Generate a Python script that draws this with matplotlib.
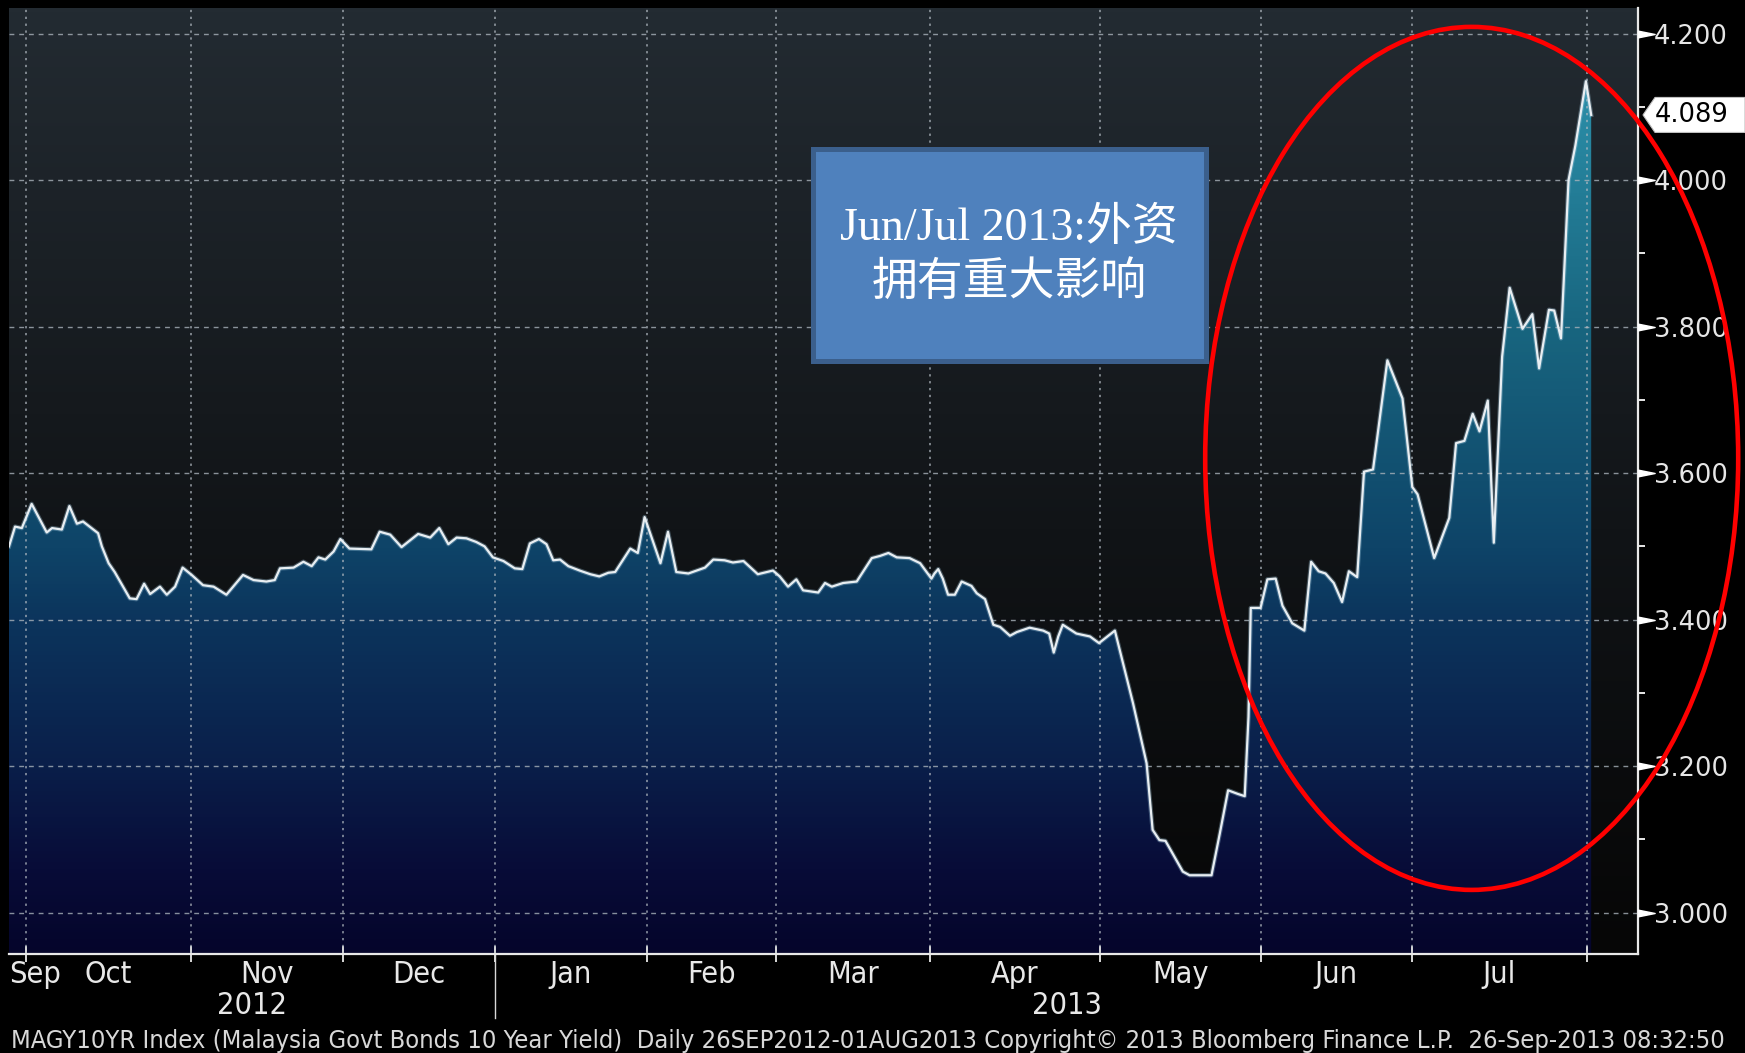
"""Malaysia 10Y govt bond yield, Bloomberg-style dark area chart."""
import matplotlib
matplotlib.use("Agg")
import matplotlib.pyplot as plt
import numpy as np
from matplotlib import font_manager
from matplotlib.colors import LinearSegmentedColormap
from matplotlib.patches import Ellipse, Polygon, Rectangle
from matplotlib.path import Path
from matplotlib.transforms import IdentityTransform, blended_transform_factory

# Data (x = trading sessions since 26-Sep-2012)
sessions = [
    0.0, 0.8, 1.7, 3.0, 5.0, 5.7, 7.0, 8.0, 9.0, 9.8, 11.8, 12.3, 13.2, 14.0,
    16.0, 16.9, 17.9, 18.7, 20.0, 20.9, 22.0, 23.0, 24.2, 25.7, 27.1, 28.8,
    31.0, 32.4, 34.1, 35.2, 35.9, 37.7, 39.0, 40.1, 41.0, 41.9, 43.0, 43.9,
    45.1, 48.0, 49.1, 50.5, 52.0, 54.2, 55.8, 57.0, 58.2, 59.3, 60.6, 61.9,
    63.0, 64.1, 65.5, 67.0, 68.0, 69.0, 70.2, 71.2, 72.1, 73.0, 74.1, 75.6,
    77.0, 78.2, 79.4, 80.3, 82.3, 83.3, 84.2, 86.3, 87.3, 88.4, 90.0, 92.2,
    93.3, 94.8, 95.9, 97.3, 99.2, 101.2, 102.1, 103.2, 104.3, 105.2, 107.2,
    108.1, 109.0, 110.5, 112.3, 114.3, 115.4, 116.5, 117.6, 119.3, 120.7,
    122.2, 122.6, 123.1, 123.7, 124.4, 125.3, 126.2, 127.5, 128.2, 129.3,
    130.4, 131.3, 132.6, 133.5, 135.2, 137.0, 137.8, 138.4, 139.0, 139.6,
    141.4, 143.2, 144.4, 146.5, 148.9, 150.7, 151.5, 152.4, 153.2, 155.5,
    156.4, 159.3, 160.4, 161.5, 162.8, 163.7, 164.2, 164.5, 165.8, 166.7,
    167.8, 168.7, 170.0, 171.6, 172.5, 173.5, 174.4, 175.5, 176.6, 177.5,
    178.6, 179.5, 180.7, 182.6, 184.6, 185.9, 186.6, 188.8, 190.8, 191.7,
    192.8, 193.9, 194.8, 195.9, 196.7, 197.8, 198.8, 200.5, 201.8, 202.7,
    204.0, 204.7, 205.6, 206.6, 207.5, 208.9, 209.6,
]
yields = [
    3.500, 3.527, 3.525, 3.558, 3.519, 3.525, 3.523, 3.555, 3.531, 3.534,
    3.518, 3.500, 3.477, 3.465, 3.429, 3.428, 3.449, 3.435, 3.445, 3.434,
    3.445, 3.471, 3.461, 3.447, 3.445, 3.434, 3.461, 3.454, 3.452, 3.454,
    3.470, 3.471, 3.479, 3.473, 3.485, 3.482, 3.493, 3.510, 3.497, 3.496,
    3.520, 3.516, 3.499, 3.517, 3.512, 3.525, 3.503, 3.512, 3.511, 3.506,
    3.500, 3.485, 3.480, 3.470, 3.469, 3.504, 3.510, 3.503, 3.481, 3.482,
    3.473, 3.467, 3.462, 3.459, 3.464, 3.465, 3.497, 3.491, 3.540, 3.477,
    3.520, 3.465, 3.463, 3.471, 3.482, 3.481, 3.478, 3.480, 3.462, 3.467,
    3.459, 3.445, 3.455, 3.440, 3.437, 3.450, 3.445, 3.450, 3.452, 3.484,
    3.487, 3.491, 3.485, 3.484, 3.477, 3.456, 3.463, 3.469, 3.456, 3.434,
    3.434, 3.452, 3.446, 3.436, 3.428, 3.393, 3.390, 3.378, 3.383, 3.389,
    3.385, 3.381, 3.355, 3.377, 3.393, 3.381, 3.377, 3.368, 3.385, 3.286,
    3.204, 3.113, 3.099, 3.098, 3.056, 3.051, 3.051, 3.108, 3.167, 3.162,
    3.159, 3.267, 3.416, 3.416, 3.455, 3.456, 3.419, 3.395, 3.385, 3.479,
    3.466, 3.463, 3.450, 3.424, 3.466, 3.458, 3.602, 3.605, 3.754, 3.702,
    3.581, 3.571, 3.484, 3.539, 3.641, 3.644, 3.681, 3.657, 3.699, 3.505,
    3.759, 3.853, 3.797, 3.817, 3.743, 3.823, 3.822, 3.784, 4.000, 4.047,
    4.135, 4.089,
]

# month boundaries (session index) and labels
month_bounds = [2.2, 24.1, 44.2, 64.4, 84.5, 101.6, 122.0, 144.5, 165.8, 185.8, 209.0]
month_labels = ["Sep", "Oct", "Nov", "Dec", "Jan", "Feb", "Mar", "Apr", "May", "Jun", "Jul"]
year_labels = ["2012", "2013"]
y_major = [3.0, 3.2, 3.4, 3.6, 3.8, 4.0, 4.2]
y_minor = [3.1, 3.3, 3.5, 3.7, 3.9, 4.1]

footer_text = ("MAGY10YR Index (Malaysia Govt Bonds 10 Year Yield)  Daily 26SEP2012-01AUG2013 "
               "Copyright\u00a9 2013 Bloomberg Finance L.P.  26-Sep-2013 08:32:50")
note_lines = ["Jun/Jul 2013:外资", "拥有重大影响"]

XMIN, XMAX = 0.0, 215.8
YMIN, YMAX = 2.9435, 4.235
W, H = 1745, 1053

installed = {f.name for f in font_manager.fontManager.ttflist}
if "Liberation Sans Narrow" in installed:
    NARROW = dict(family="Liberation Sans Narrow")
else:
    NARROW = dict(family="DejaVu Sans", fontstretch="condensed")
CJK_WEIGHT = "light"

fig = plt.figure(figsize=(W / 100, H / 100), dpi=100, facecolor="black")
ax = fig.add_axes([9 / W, 1 - 954 / H, (1638 - 9) / W, (954 - 8) / H])
ax.set_xlim(XMIN, XMAX)
ax.set_ylim(YMIN, YMAX)
ax.set_facecolor("black")

# background gradient above the line
bg_cmap = LinearSegmentedColormap.from_list(
    "bg", [(0.0, "#060606"), (0.45, "#111417"), (1.0, "#232b32")])
grad = np.linspace(1, 0, 256).reshape(-1, 1)
ax.imshow(grad, extent=[XMIN, XMAX, YMIN, YMAX], aspect="auto", cmap=bg_cmap,
          vmin=0, vmax=1, zorder=0)

# area fill with a vertical gradient clipped to the series polygon
fill_cmap = LinearSegmentedColormap.from_list(
    "fill", [(0.0, "#05052b"), (0.09, "#080c38"), (0.2, "#0a1f4a"),
             (0.35, "#0c345c"), (0.43, "#0e4468"), (0.66, "#18657f"),
             (0.9, "#2a8ca6"), (1.0, "#38a0b8")])
fill_im = ax.imshow(grad, extent=[XMIN, XMAX, YMIN, YMAX], aspect="auto",
                    cmap=fill_cmap, vmin=0, vmax=1, zorder=1)
verts = [(sessions[0], YMIN)] + list(zip(sessions, yields)) + [(sessions[-1], YMIN)]
clip = Polygon(verts, closed=True, transform=ax.transData, facecolor="none", edgecolor="none")
ax.add_patch(clip)
fill_im.set_clip_path(clip)

# grid
for v in y_major:
    ax.axhline(v, color="#a9b2ba", lw=1.0, dashes=(3.5, 3.5), alpha=0.8, zorder=2)
for b in month_bounds:
    ax.axvline(b, color="#b0b8c0", lw=1.1, dashes=(1.5, 3.0), alpha=0.85, zorder=2)

# series line (soft glow under a bright core)
ax.plot(sessions, yields, color="#9fc6dc", lw=3.2, alpha=0.35, zorder=3,
        solid_joinstyle="round")
ax.plot(sessions, yields, color="#e8eef2", lw=1.6, zorder=3, solid_joinstyle="round")

# spines
for s in ("top", "left"):
    ax.spines[s].set_visible(False)
for s in ("bottom", "right"):
    ax.spines[s].set_color("#e8e8e8")
    ax.spines[s].set_linewidth(1.6)
    ax.spines[s].set_zorder(5)

# right axis
ax.yaxis.tick_right()
ax.set_yticks(y_major)
ax.set_yticklabels([f"{v:.3f}" for v in y_major])
ax.set_yticks(y_minor, minor=True)
ax.tick_params(axis="y", which="major", length=0, pad=11.5, labelsize=18.5,
               labelcolor="#e6e6e6")
ax.tick_params(axis="y", which="minor", length=5, width=1.4, color="#e8e8e8",
               direction="out")
wedge = Path([(0, -0.2), (1, 0), (0, 0.2), (0, -0.2)],
             [Path.MOVETO, Path.LINETO, Path.LINETO, Path.CLOSEPOLY])
ax.plot([XMAX] * len(y_major), y_major, linestyle="none", marker=wedge,
        markersize=24, color="white", clip_on=False, zorder=6)

# bottom axis
ax.set_xticks(month_bounds)
ax.set_xticklabels([])
ax.tick_params(axis="x", which="major", direction="inout", length=11, width=1.3,
               color="#e8e8e8")

xt = blended_transform_factory(ax.transData, ax.transAxes)
lab_y = -20.5 / 946
year_y = -51 / 946
label_kw = dict(transform=xt, va="center", color="#e8e8e8", fontsize=22, **NARROW)
ax.text(0.0, lab_y, month_labels[0], ha="left", **label_kw)
for i, lab in enumerate(month_labels[1:]):
    mid = (month_bounds[i] + month_bounds[i + 1]) / 2
    ax.text(mid, lab_y, lab, ha="center", **label_kw)
ax.text((XMIN + month_bounds[3]) / 2, year_y, year_labels[0], ha="center", **label_kw)
ax.text((month_bounds[3] + XMAX) / 2, year_y, year_labels[1], ha="center", **label_kw)
ax.plot([month_bounds[3]] * 2, [0, -64 / 946], transform=xt, color="#d8d8d8",
        lw=1.0, clip_on=False)

footer = fig.text(11 / W, 1 - 1040.6 / H, footer_text, ha="left", va="center",
                  color="#d8d8d8", fontsize=16, **NARROW)

# fit footer to the width it spans in the reference
fig.canvas.draw()
renderer = fig.canvas.get_renderer()
bb = footer.get_window_extent(renderer)
footer.set_fontsize(16 * (1720 / bb.width))

# last value tag
x_ax, y_last = ax.transData.transform((XMAX, yields[-1]))
tag = Polygon([(x_ax + 5, y_last), (x_ax + 17, y_last + 17.5), (W, y_last + 17.5),
               (W, y_last - 17.5), (x_ax + 17, y_last - 17.5)], closed=True,
              transform=IdentityTransform(), facecolor="white", edgecolor="#bfbfbf",
              lw=0.8, zorder=7)
fig.add_artist(tag)
fig.text((x_ax + 17) / W, y_last / H, f"{yields[-1]:.3f}", ha="left", va="center",
         color="black", fontsize=18.5, zorder=8)

# annotation box
box = Rectangle((812.5 / W, 1 - 360.5 / H), 393 / W, 211 / H, transform=fig.transFigure,
                facecolor="#4f81bd", edgecolor="#3b5f8c", lw=3.6, zorder=9)
fig.add_artist(box)
for txt, ypix in zip(note_lines, [229, 283]):
    fig.text(1009 / W, 1 - ypix / H, txt, ha="center", va="center", color="white",
             fontsize=33, family=["Liberation Serif", "Noto Sans CJK SC"],
             fontweight=CJK_WEIGHT, zorder=10)

# red ellipse
ring = Ellipse((1471.7 / W, 1 - 458.4 / H), 533 / W, 863 / H, transform=fig.transFigure,
               facecolor="none", edgecolor="#ff0000", lw=3.3, zorder=11)
fig.add_artist(ring)

fig.savefig("out.png", dpi=100, facecolor="black")
plt.close(fig)
